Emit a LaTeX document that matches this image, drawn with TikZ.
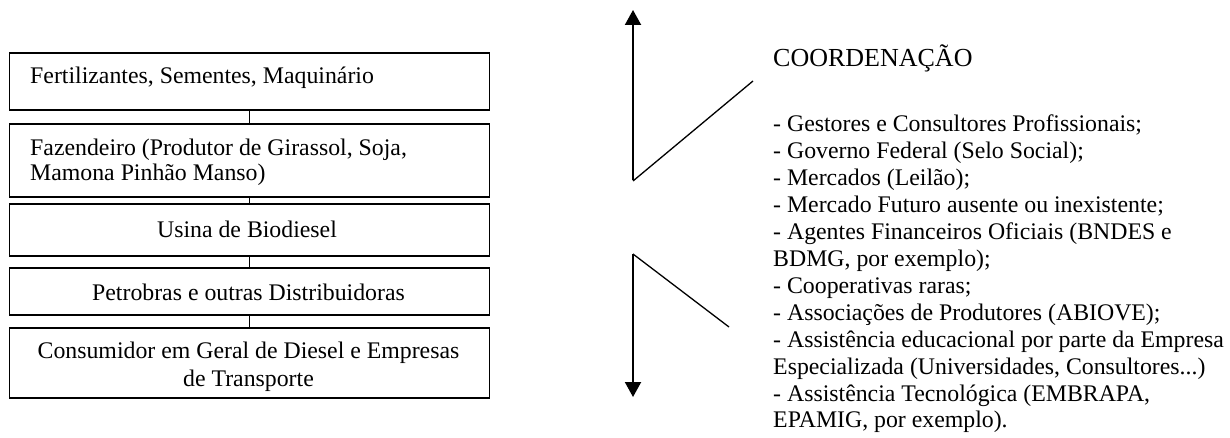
\documentclass[tikz,border=0pt]{standalone}
\usepackage{fontspec}
\setmainfont{Liberation Serif}
\usetikzlibrary{arrows.meta}
\begin{document}
\begin{tikzpicture}[x=1pt,y=-1pt,
  stagebox/.style={draw, line width=1.8pt, minimum width=480pt, inner sep=0pt, anchor=north west},
  txt/.style={inner sep=0pt, font=\fontsize{23.8}{27}\selectfont},
  itemtxt/.style={txt, anchor=base west},
  link/.style={line width=1.8pt},
  bigarrow/.style={line width=2pt, -{Triangle[length=15pt,width=16pt]}},
  diag/.style={line width=1.3pt}]
\useasboundingbox (0,0) rectangle (1230,438);

% chain of boxes
\node[stagebox, minimum height=57pt] (b1) at (8.5,52) {};
\node[stagebox, minimum height=73pt] (b2) at (8.5,123) {};
\node[stagebox, minimum height=52pt] (b3) at (8.5,203) {};
\node[stagebox, minimum height=47pt] (b4) at (8.5,267) {};
\node[stagebox, minimum height=70pt] (b5) at (8.5,327) {};

\node[txt, anchor=base west] (t1) at (30,84) {Fertilizantes, Sementes, Maquinário};
\node[txt, anchor=base west] (t2a) at (30,156) {Fazendeiro (Produtor de Girassol, Soja,};
\node[txt, anchor=base west] (t2b) at (30,181) {Mamona Pinhão Manso)};
\node[txt, anchor=base] (t3) at (247,237) {Usina de Biodiesel};
\node[txt, anchor=base] (t4) at (248.5,300) {Petrobras e outras Distribuidoras};
\node[txt, anchor=base] (t5a) at (248.5,358) {Consumidor em Geral de Diesel e Empresas};
\node[txt, anchor=base] (t5b) at (248.5,386) {de Transporte};

\draw[link] (b1.south) -- (b2.north);
\draw[link] (b2.south) -- (b3.north);
\draw[link] (b3.south) -- (b4.north);
\draw[link] (b4.south) -- (b5.north);

% arrows
\coordinate (ua) at (633,180);
\coordinate (ut) at (633,10);
\coordinate (ud0) at (633,181);
\coordinate (ud1) at (753,81);
\coordinate (la) at (633,254);
\coordinate (lt) at (633,397);
\coordinate (ld1) at (729,327);
\draw[bigarrow] (ua) -- (ut);
\draw[diag] (ud0) -- (ud1);
\draw[bigarrow] (la) -- (lt);
\draw[diag] (la) -- (ld1);

% coordination text
\node[anchor=base west, inner sep=0pt, font=\fontsize{26}{30}\selectfont] (coord) at (773,67) {COORDENAÇÃO};
\node[itemtxt] (l1) at (773,132) {- Gestores e Consultores Profissionais;};
\node[itemtxt] (l2) at (773,158.9) {- Governo Federal (Selo Social);};
\node[itemtxt] (l3) at (773,185.8) {- Mercados (Leilão);};
\node[itemtxt] (l4) at (773,212.7) {- Mercado Futuro ausente ou inexistente;};
\node[itemtxt] (l5) at (773,239.6) {- Agentes Financeiros Oficiais (BNDES e};
\node[itemtxt] (l6) at (773,266.5) {BDMG, por exemplo);};
\node[itemtxt] (l7) at (773,293.4) {- Cooperativas raras;};
\node[itemtxt] (l8) at (773,320.3) {- Associações de Produtores (ABIOVE);};
\node[itemtxt] (l9) at (773,347.2) {- Assistência educacional por parte da Empresa};
\node[itemtxt] (l10) at (773,374.1) {Especializada (Universidades, Consultores...)};
\node[itemtxt] (l11) at (773,401) {- Assistência Tecnológica (EMBRAPA,};
\node[itemtxt] (l12) at (773,427.9) {EPAMIG, por exemplo).};
\end{tikzpicture}
\end{document}
